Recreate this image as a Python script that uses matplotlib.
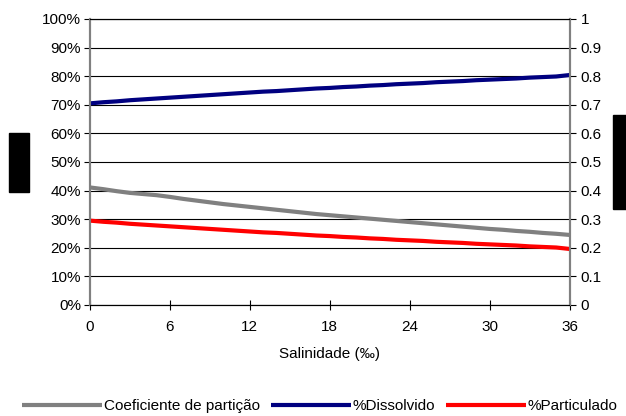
import matplotlib
matplotlib.use("Agg")
import matplotlib.pyplot as plt
from matplotlib.patches import Rectangle
from matplotlib.ticker import FuncFormatter, MultipleLocator

plt.rcParams['font.family'] = ['Liberation Sans', 'DejaVu Sans']

salinity = list(range(0, 37))

dissolved = [70.5, 70.9, 71.2, 71.6, 71.9, 72.2, 72.5, 72.8, 73.1, 73.4,
             73.7, 74.0, 74.3, 74.6, 74.8, 75.1, 75.4, 75.7, 75.9, 76.2,
             76.4, 76.7, 76.9, 77.2, 77.4, 77.6, 77.9, 78.1, 78.3, 78.6,
             78.8, 79.0, 79.2, 79.5, 79.7, 79.9, 80.4]

particulate = [29.5, 29.1, 28.8, 28.4, 28.1, 27.8, 27.5, 27.2, 26.9, 26.6,
               26.3, 26.0, 25.7, 25.4, 25.2, 24.9, 24.6, 24.3, 24.1, 23.8,
               23.6, 23.3, 23.1, 22.8, 22.6, 22.4, 22.1, 21.9, 21.7, 21.4,
               21.2, 21.0, 20.8, 20.5, 20.3, 20.1, 19.6]

partition = [0.411, 0.405, 0.398, 0.392, 0.388, 0.384, 0.378, 0.371, 0.365,
             0.359, 0.353, 0.348, 0.343, 0.338, 0.333, 0.328, 0.323, 0.318,
             0.314, 0.310, 0.306, 0.302, 0.298, 0.294, 0.290, 0.286, 0.282,
             0.278, 0.274, 0.270, 0.266, 0.263, 0.259, 0.256, 0.252, 0.249,
             0.245]

x_ticks = [0, 6, 12, 18, 24, 30, 36]
labels = ['Coeficiente de partição', '%Dissolvido', '%Particulado']

W, H = 626, 416
fig = plt.figure(figsize=(W / 100, H / 100), dpi=100)
ax = fig.add_axes([90 / W, 1 - 305 / H, (569.5 - 90) / W, (305 - 19) / H])
ax2 = ax.twinx()

GREY = '#808080'
NAVY = '#000080'
RED = '#ff0000'
LW = 3.0
FS = 11

# horizontal grid on the percent axis
ax.set_ylim(0, 100)
ax.set_xlim(0, 36)
ax.yaxis.set_major_locator(MultipleLocator(10))
ax.yaxis.set_major_formatter(FuncFormatter(lambda v, p: f'{v:.0f}%'))
ax.grid(axis='y', color='black', linewidth=0.8)
ax.set_axisbelow(True)
ax.set_xticks(x_ticks)
ax.set_xticklabels([str(t) for t in x_ticks])

l2, = ax.plot(salinity, dissolved, color=NAVY, lw=LW, solid_capstyle='butt', zorder=3)
l3, = ax.plot(salinity, particulate, color=RED, lw=LW, solid_capstyle='butt', zorder=3)

ax2.set_ylim(0, 1)
ax2.yaxis.set_major_locator(MultipleLocator(0.1))
ax2.yaxis.set_major_formatter(FuncFormatter(lambda v, p: f'{v:g}'))
l1, = ax2.plot(salinity, partition, color=GREY, lw=LW, solid_capstyle='butt', zorder=3)

for a in (ax, ax2):
    a.spines['top'].set_color('black')
    a.spines['top'].set_linewidth(0.8)
    a.spines['bottom'].set_color('black')
    a.spines['bottom'].set_linewidth(0.8)
    a.spines['left'].set_color(GREY)
    a.spines['left'].set_linewidth(1.5)
    a.spines['right'].set_color(GREY)
    a.spines['right'].set_linewidth(1.5)

ax.tick_params(axis='y', direction='out', length=4, width=0.8, color='black',
               pad=2.5, labelsize=FS)
ax.tick_params(axis='x', direction='inout', length=7, width=0.8, color='black',
               pad=7, labelsize=FS)
ax2.tick_params(axis='y', direction='out', length=4, width=0.8, color='black',
                pad=4, labelsize=FS)

ax.set_xlabel('Salinidade (‰)', fontsize=FS, labelpad=10)

fig.legend([l1, l2, l3], labels, loc='center',
           bbox_to_anchor=(320 / W, 1 - 406 / H), ncol=3, frameon=False,
           fontsize=FS, handlelength=5.2, handletextpad=0.12,
           columnspacing=0.75, borderaxespad=0, borderpad=0)

# blocked-out axis titles
fig.patches.append(Rectangle((9 / W, 1 - 192 / H), 20 / W, 59 / H,
                             transform=fig.transFigure, color='black'))
fig.patches.append(Rectangle((613 / W, 1 - 209 / H), 13 / W, 94 / H,
                             transform=fig.transFigure, color='black'))

fig.savefig('out.png', dpi=100)
